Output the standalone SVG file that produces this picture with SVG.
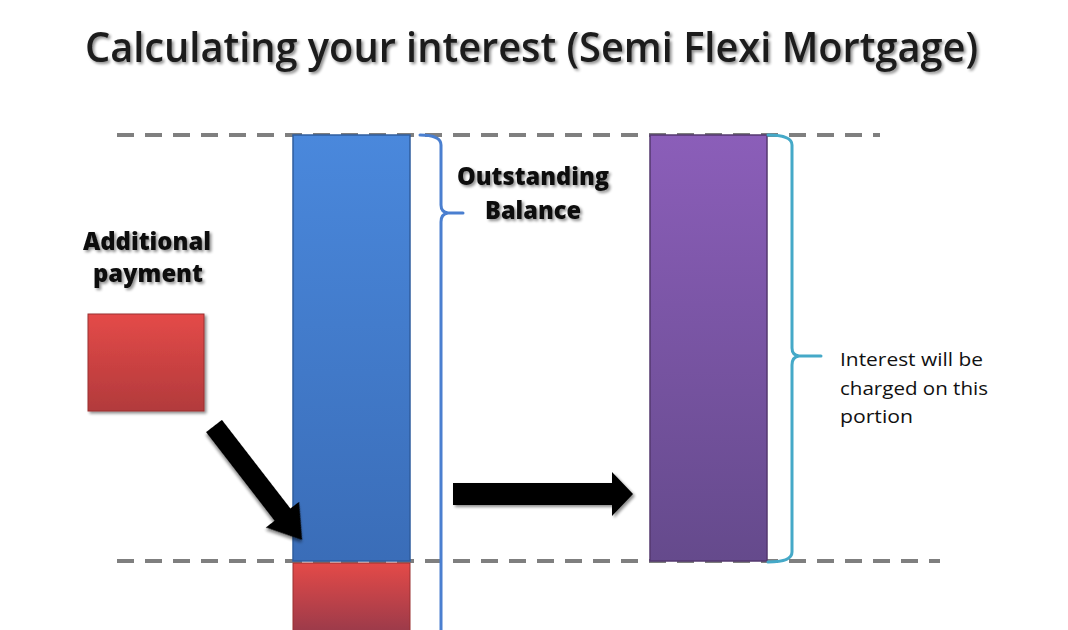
<svg xmlns="http://www.w3.org/2000/svg" width="1068" height="630" viewBox="0 0 1068 630">
<style>
.dash{stroke:#7f7f7f;stroke-width:4;stroke-dasharray:17 11;fill:none}
.title{font-family:"Open Sans","Liberation Sans",sans-serif;font-weight:600;font-size:41px;fill:#1c1c1c}
.lbl{font-family:"Open Sans","Liberation Sans",sans-serif;font-weight:800;font-size:24px;fill:#111111;text-anchor:middle}
.note{font-family:"Open Sans","Liberation Sans",sans-serif;font-weight:500;font-size:19px;fill:#111111}
.brace{fill:none;stroke-width:3;stroke-linejoin:round;stroke-linecap:round}
</style>
<defs>
<linearGradient id="gBlue" x1="0" y1="0" x2="0" y2="1">
<stop offset="0" stop-color="#4a88dc"/><stop offset="1" stop-color="#3a6db8"/>
</linearGradient>
<linearGradient id="gPurple" x1="0" y1="0" x2="0" y2="1">
<stop offset="0" stop-color="#8b5eb9"/><stop offset="1" stop-color="#654a8c"/>
</linearGradient>
<linearGradient id="gRed" x1="0" y1="0" x2="0" y2="1">
<stop offset="0" stop-color="#e44a48"/><stop offset="1" stop-color="#b23a3c"/>
</linearGradient>
<linearGradient id="gRed2" x1="0" y1="0" x2="0" y2="1">
<stop offset="0" stop-color="#e44a48"/><stop offset="1" stop-color="#9a3a4a"/>
</linearGradient>
<filter id="sh" x="-10%" y="-20%" width="120%" height="150%">
<feGaussianBlur in="SourceAlpha" stdDeviation="1.5"/>
<feOffset dx="1.5" dy="2" result="b"/>
<feComponentTransfer><feFuncA type="linear" slope="0.45"/></feComponentTransfer>
<feMerge><feMergeNode/><feMergeNode in="SourceGraphic"/></feMerge>
</filter>
</defs>
<rect width="1068" height="630" fill="#ffffff"/>

<g id="title">
<text class="title" x="85" y="62" textLength="893" lengthAdjust="spacingAndGlyphs" filter="url(#sh)">Calculating your interest (Semi Flexi Mortgage)</text>
</g>

<g id="guides">
<line class="dash" x1="117" y1="135" x2="880" y2="135"/>
<line class="dash" x1="117" y1="561" x2="940" y2="561"/>
</g>

<g id="additional-payment">
<rect x="88" y="314" width="116" height="97" fill="url(#gRed)" stroke="#9a3030" stroke-width="1" filter="url(#sh)"/>
<text class="lbl" x="147" y="250" textLength="128" lengthAdjust="spacingAndGlyphs" filter="url(#sh)">Additional</text>
<text class="lbl" x="148" y="282" textLength="110" lengthAdjust="spacingAndGlyphs" filter="url(#sh)">payment</text>
</g>

<g id="balance-bar">
<rect x="293" y="135" width="117" height="426" fill="url(#gBlue)" stroke="#2f5d9e" stroke-width="1.5"/>
<rect x="293" y="563" width="117" height="70" fill="url(#gRed2)" stroke="#9a3030" stroke-width="1"/>
</g>

<g id="interest-bar">
<rect x="650" y="135" width="117" height="426" fill="url(#gPurple)" stroke="#54386f" stroke-width="1.5"/>
</g>

<g id="outstanding-balance">
<path class="brace" stroke="#4a7fd0" d="M420,135 Q441,135 441,145 L441,205 Q441,212 448,213 L463,213 M448,213 Q441,214 441,222 L441,632"/>
<text class="lbl" x="533" y="185" textLength="152" lengthAdjust="spacingAndGlyphs" filter="url(#sh)">Outstanding</text>
<text class="lbl" x="533" y="219" textLength="96" lengthAdjust="spacingAndGlyphs" filter="url(#sh)">Balance</text>
</g>

<g id="interest-portion">
<path class="brace" stroke="#45a9c8" d="M768,135 Q792,135 792,145 L792,348 Q792,355 799,356 L821,356 M799,356 Q792,357 792,365 L792,552 Q792,562 768,562"/>
<text class="note" x="840" y="366" textLength="143" lengthAdjust="spacingAndGlyphs">Interest will be</text>
<text class="note" x="840" y="395" textLength="148" lengthAdjust="spacingAndGlyphs">charged on this</text>
<text class="note" x="840" y="423" textLength="73" lengthAdjust="spacingAndGlyphs">portion</text>
</g>

<g id="connectors">
<polygon points="0,-10 112,-10 112,-21 144,0 112,21 112,10 0,10" fill="#000" filter="url(#sh)" transform="translate(214,426) rotate(52.3)"/>
<polygon points="453,483 612,483 612,472 633,494 612,516 612,505 453,505" fill="#000" filter="url(#sh)"/>
</g>
</svg>
